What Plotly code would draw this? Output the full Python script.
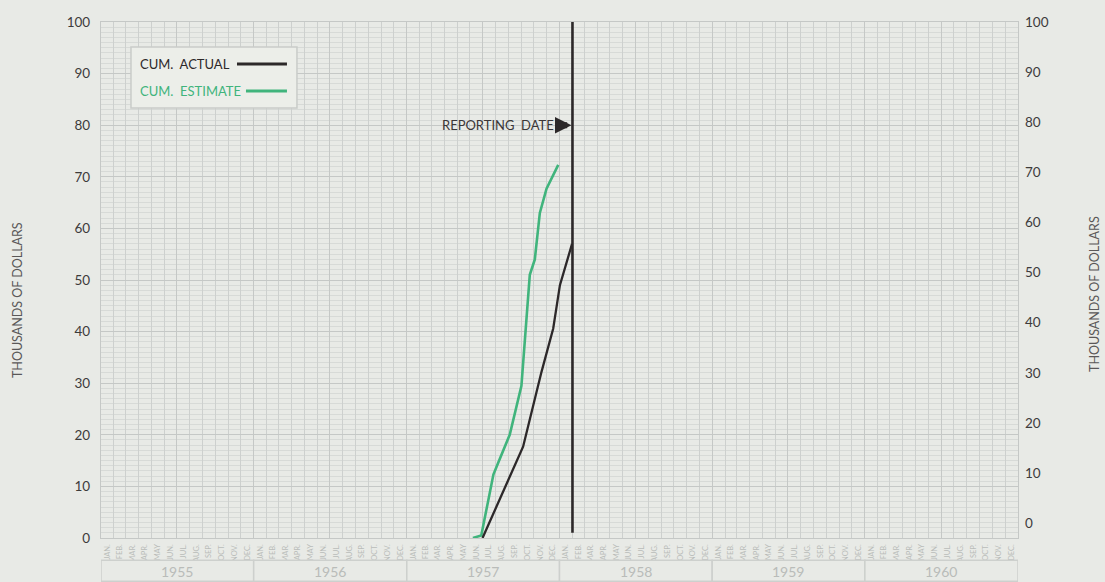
import plotly.graph_objects as go

# ---------------- data ----------------
EST_DATES = ["1957-06-08", "1957-06-28", "1957-07-14", "1957-07-27", "1957-08-07",
             "1957-09-04", "1957-10-02", "1957-10-11", "1957-10-22", "1957-11-03",
             "1957-11-15", "1957-12-01", "1957-12-29"]
EST_VALUES = [0, 0.5, 7, 12.3, 14.5, 20, 29.5, 40, 51, 54, 63, 67.7, 72.3]

ACT_DATES = ["1957-07-01", "1957-10-06", "1957-11-19", "1957-12-17", "1958-01-02", "1958-01-31"]
ACT_VALUES = [0, 17.7, 32.2, 40.6, 49, 57]

REPORT_DATE = "1958-02-01"
REPORT_LABEL_VALUE = 80
YEARS = [1955, 1956, 1957, 1958, 1959, 1960]
MONTH_ALIAS = {"Jan": "JAN.", "Feb": "FEB.", "Mar": "MAR.", "Apr": "APR.", "May": "MAY",
               "Jun": "JUN.", "Jul": "JUL.", "Aug": "AUG.", "Sep": "SEP.", "Oct": "OCT.",
               "Nov": "NOV.", "Dec": "DEC."}
Y_TICKS = list(range(0, 101, 10))
AXIS_TITLE = "THOUSANDS OF DOLLARS"

# ---------------- style ----------------
FONT = "Lato"
BG = "#e8eae6"
GRID_MINOR = "#d7dad7"
GRID_MONTH = "#cdd0ce"
GRID_MAJOR = "#c5c8c6"
GREEN = "#40b47c"
DARK = "#2c2829"
TICK_COLOR = "#3d3b3b"
LIGHT_TEXT = "#b9bcb9"
X_RANGE = ["1955-01-01", "1961-01-01"]
RIGHT_RANGE = [-2.99, 100.05]

fig = go.Figure()
fig.add_trace(go.Scatter(x=EST_DATES, y=EST_VALUES, mode="lines", name="CUM. ESTIMATE",
                         line=dict(color=GREEN, width=2.6), showlegend=False))
fig.add_trace(go.Scatter(x=ACT_DATES, y=ACT_VALUES, mode="lines", name="CUM. ACTUAL",
                         line=dict(color=DARK, width=2.3), showlegend=False))
# empty trace to host the overlay axes (6-month grid and right-hand scale)
fig.add_trace(go.Scatter(x=[], y=[], xaxis="x2", yaxis="y2", showlegend=False, hoverinfo="skip"))

# reporting date line
fig.add_shape(type="line", xref="x", yref="y", x0=REPORT_DATE, x1=REPORT_DATE, y0=1, y1=100,
              line=dict(color=DARK, width=2.6))
fig.add_annotation(x=REPORT_DATE, y=REPORT_LABEL_VALUE, xref="x", yref="y",
                   text="REPORTING\u00a0\u00a0DATE", showarrow=False, xanchor="right",
                   yanchor="middle", xshift=-16,
                   font=dict(family=FONT, size=13, color="#3a3637"))
fig.add_annotation(x=REPORT_DATE, y=REPORT_LABEL_VALUE, xref="x", yref="y", text="",
                   showarrow=True, ax=-11, ay=0, arrowhead=2, arrowsize=0.55, arrowwidth=6,
                   arrowcolor=DARK, standoff=1)

# year boxes below the month labels
for yr in YEARS:
    fig.add_shape(type="rect", xref="x", yref="paper", x0=f"{yr}-01-01", x1=f"{yr + 1}-01-01",
                  y0=-0.084, y1=-0.043, line=dict(color="#cdd0cd", width=1.5), fillcolor=BG)
    fig.add_annotation(x=f"{yr}-07-02", y=-0.064, xref="x", yref="paper", text=str(yr),
                       showarrow=False, xanchor="center", yanchor="middle",
                       font=dict(family=FONT, size=14, color=LIGHT_TEXT))

# legend box (text first, then line sample, as in the reference)
fig.add_shape(type="rect", xref="paper", yref="paper", x0=0.0327, x1=0.2137, y0=0.8333, y1=0.9516,
              line=dict(color="#c9ccc9", width=1.5), fillcolor="#eceee9", layer="above")
fig.add_annotation(x=0.0403, y=0.9186, xref="paper", yref="paper", text="CUM.\u00a0\u00a0ACTUAL",
                   showarrow=False, xanchor="left", yanchor="middle",
                   font=dict(family=FONT, size=13, color=DARK))
fig.add_shape(type="line", xref="paper", yref="paper", x0=0.1483, x1=0.2028, y0=0.9186, y1=0.9186,
              line=dict(color=DARK, width=3))
fig.add_annotation(x=0.0403, y=0.8663, xref="paper", yref="paper", text="CUM.\u00a0\u00a0ESTIMATE",
                   showarrow=False, xanchor="left", yanchor="middle",
                   font=dict(family=FONT, size=13, color=GREEN))
fig.add_shape(type="line", xref="paper", yref="paper", x0=0.1581, x1=0.2028, y0=0.8663, y1=0.8663,
              line=dict(color=GREEN, width=3))

# axis titles
fig.add_annotation(x=0, y=0.4612, xref="paper", yref="paper", xshift=-84, text=AXIS_TITLE,
                   textangle=-90, showarrow=False, xanchor="center", yanchor="middle",
                   font=dict(family=FONT, size=12.5, color="#5a5858"))
fig.add_annotation(x=1, y=0.4729, xref="paper", yref="paper", xshift=77, text=AXIS_TITLE,
                   textangle=-90, showarrow=False, xanchor="center", yanchor="middle",
                   font=dict(family=FONT, size=12.5, color="#5a5858"))

fig.update_layout(
    width=1105, height=582,
    margin=dict(l=101, r=87, t=22, b=44),
    paper_bgcolor=BG, plot_bgcolor=BG,
    font=dict(family=FONT),
    xaxis=dict(type="date", range=X_RANGE, dtick="M1", tick0="1955-01-01",
               ticklabelmode="period", tickformat="%b", labelalias=MONTH_ALIAS,
               tickangle=-90, tickfont=dict(family=FONT, size=7.5, color=LIGHT_TEXT),
               ticks="", ticklabelstandoff=2, showgrid=True, gridcolor=GRID_MONTH, gridwidth=1,
               showline=True, linecolor=GRID_MAJOR, linewidth=1.3, mirror=True, zeroline=False),
    xaxis2=dict(type="date", range=X_RANGE, overlaying="x", anchor="y", dtick="M6",
                tick0="1955-01-01", showticklabels=False, ticks="", showgrid=True,
                gridcolor=GRID_MAJOR, gridwidth=1.3, zeroline=False),
    yaxis=dict(range=[0, 100], tickvals=Y_TICKS, showgrid=True, gridcolor=GRID_MAJOR, gridwidth=1.3,
               minor=dict(dtick=1, tick0=0, showgrid=True, gridcolor=GRID_MINOR, gridwidth=1),
               ticks="", ticklabelstandoff=7, tickfont=dict(family=FONT, size=13.5, color=TICK_COLOR),
               showline=True, linecolor=GRID_MAJOR, linewidth=1.3, mirror=True, zeroline=False),
    yaxis2=dict(range=RIGHT_RANGE, overlaying="y", side="right", anchor="x", tickvals=Y_TICKS,
                showgrid=False, zeroline=False, ticks="", ticklabelstandoff=6,
                tickfont=dict(family=FONT, size=13.5, color=TICK_COLOR)),
)

fig.write_html("out.html", config={"displayModeBar": False},
               post_script="document.body.style.margin='0px';")
